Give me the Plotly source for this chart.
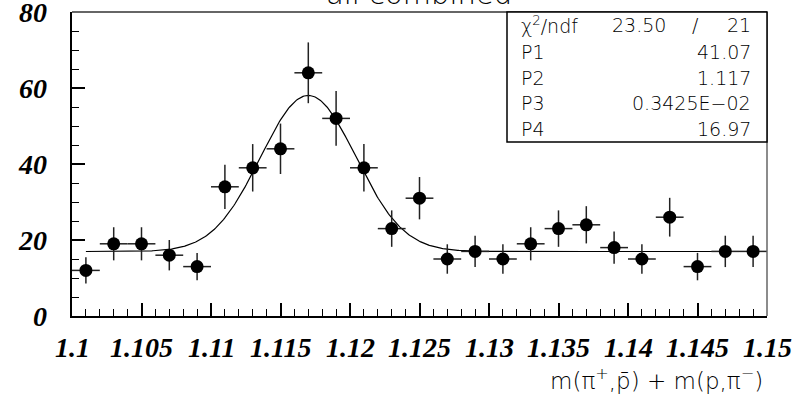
import numpy as np
import plotly.graph_objects as go

# ---- data ----
bin_centers = [1.101 + 0.002 * i for i in range(25)]
counts = [12, 19, 19, 16, 13, 34, 39, 44, 64, 52, 39, 23, 31, 15, 17, 15, 19, 23, 24, 18, 15, 26, 13, 17, 17]
errors = [float(np.sqrt(c)) for c in counts]
bin_half_width = 0.001

# fit parameters (gaussian + constant)
P1, P2, P3, P4 = 41.07, 1.117, 0.3425e-02, 16.97
fit_range = [1.101, 1.15]

stats_labels = ["χ<sup>2</sup>/ndf", "P1", "P2", "P3", "P4"]
stats_values = ["41.07", "1.117", "0.3425E−02", "16.97"]

xticks = [1.1, 1.105, 1.11, 1.115, 1.12, 1.125, 1.13, 1.135, 1.14, 1.145, 1.15]
xticklabels = ["1.1", "1.105", "1.11", "1.115", "1.12", "1.125", "1.13", "1.135", "1.14", "1.145", "1.15"]
yticks = [0, 20, 40, 60, 80]
yticklabels = ["0", "20", "40", "60", "80"]

# ---- layout geometry (pixels) ----
W, H = 800, 400
L, R, T, B = 72, 767, 12, 316


def px(x):
    return (x - L) / (R - L)


def py(y):
    return (B - y) / (B - T)


xf = np.linspace(fit_range[0], fit_range[1], 600)
yf = P1 * np.exp(-0.5 * ((xf - P2) / P3) ** 2) + P4

fig = go.Figure()
fig.add_trace(go.Scatter(
    x=xf, y=yf, mode="lines",
    line=dict(color="black", width=1.2),
    hoverinfo="skip", showlegend=False,
))
fig.add_trace(go.Scatter(
    x=bin_centers, y=counts, mode="markers",
    marker=dict(color="black", size=13, symbol="circle"),
    error_y=dict(type="data", array=errors, visible=True, width=0, thickness=1.5, color="#222"),
    error_x=dict(type="constant", value=bin_half_width, visible=True, width=0, thickness=1.5, color="#222"),
    showlegend=False,
))

thin = "DejaVu Sans"
thin_w = 200

fig.update_layout(
    width=W, height=H,
    margin=dict(l=L, r=W - R, t=T, b=H - B),
    paper_bgcolor="white", plot_bgcolor="white",
    xaxis=dict(
        range=[1.1, 1.15], tickvals=xticks, showticklabels=False,
        ticks="inside", ticklen=13, tickwidth=1.5, tickcolor="black",
        showline=True, linecolor="black", linewidth=2,
        showgrid=False, zeroline=False,
        minor=dict(dtick=0.001, tick0=1.1, ticks="inside", ticklen=7, tickwidth=1.2, tickcolor="black", showgrid=False),
    ),
    yaxis=dict(
        range=[0, 80], tickvals=yticks, showticklabels=False,
        ticks="inside", ticklen=13, tickwidth=1.5, tickcolor="black",
        showline=True, linecolor="black", linewidth=2,
        showgrid=False, zeroline=False,
        minor=dict(dtick=5, tick0=0, ticks="inside", ticklen=7, tickwidth=1.2, tickcolor="black", showgrid=False),
    ),
)

# tick labels (bold italic serif)
tfont = dict(family="Liberation Serif", size=28, color="black")
for v, t in zip(xticks, xticklabels):
    fig.add_annotation(x=v, y=py(348), xref="x", yref="paper", text=f"<b><i>{t}</i></b>",
                       showarrow=False, xanchor="center", yanchor="middle", font=tfont)
for v, t in zip(yticks, yticklabels):
    fig.add_annotation(x=px(49), y=v, xref="paper", yref="y", text=f"<b><i>{t}</i></b>",
                       showarrow=False, xanchor="right", yanchor="middle", font=tfont)

# top and right frame lines (gray)
fig.add_shape(type="line", xref="paper", yref="paper", x0=0, x1=1, y0=1, y1=1,
              line=dict(color="#666", width=2))
fig.add_shape(type="line", xref="paper", yref="paper", x0=1, x1=1, y0=0, y1=1,
              line=dict(color="#666", width=1.5))

# stats box
fig.add_shape(type="rect", xref="paper", yref="paper",
              x0=px(507), x1=px(767), y0=py(142), y1=py(12),
              line=dict(color="black", width=1.5), fillcolor="white")
row_y = [25, 52, 78, 103, 129]
sfont = dict(family=thin, size=19, color="black", weight=thin_w)
for lab, yy in zip(stats_labels, row_y):
    fig.add_annotation(x=px(519), y=py(yy), xref="paper", yref="paper", text=lab,
                       showarrow=False, xanchor="left", yanchor="middle", font=sfont)
fig.add_annotation(x=px(610), y=py(row_y[0]), xref="paper", yref="paper", text="23.50",
                   showarrow=False, xanchor="left", yanchor="middle", font=sfont)
fig.add_annotation(x=px(695), y=py(row_y[0]), xref="paper", yref="paper", text="/",
                   showarrow=False, xanchor="center", yanchor="middle", font=sfont)
fig.add_annotation(x=px(753), y=py(row_y[0]), xref="paper", yref="paper", text="21",
                   showarrow=False, xanchor="right", yanchor="middle", font=sfont)
for val, yy in zip(stats_values, row_y[1:]):
    fig.add_annotation(x=px(753), y=py(yy), xref="paper", yref="paper", text=val,
                       showarrow=False, xanchor="right", yanchor="middle", font=sfont)

# title (mostly cut off at top)
fig.add_annotation(x=px(419), y=py(13), xref="paper", yref="paper", text="all combined",
                   showarrow=False, xanchor="center", yanchor="bottom",
                   font=dict(family=thin, size=29, color="black", weight=thin_w))

# x axis title
fig.add_annotation(x=px(765), y=py(379), xref="paper", yref="paper",
                   text="m(π<sup>+</sup>,p̄) + m(p,π<sup>−</sup>)",
                   showarrow=False, xanchor="right", yanchor="middle",
                   font=dict(family=thin, size=23, color="black", weight=thin_w))

fig.write_html("out.html")
